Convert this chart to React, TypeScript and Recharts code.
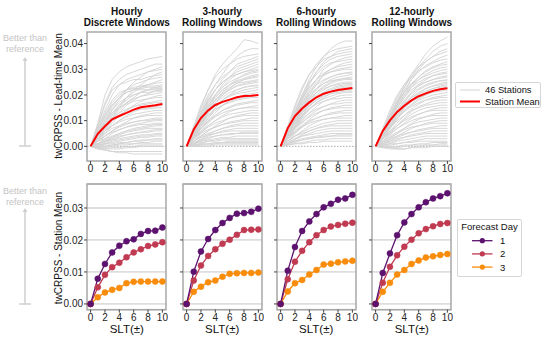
import React from 'react';
import {
  LineChart,
  Line,
  XAxis,
  YAxis,
  CartesianGrid,
  ReferenceArea,
  ReferenceLine,
} from 'recharts';

// Station skill curves, values in units of 0.001 (per-mille), SLT 0..10
const SLT = [0, 1, 2, 3, 4, 5, 6, 7, 8, 9, 10];

const hourlyStations = [
  [0, 9, 20, 26, 29, 31, 32, 33, 34, 34.5, 35],
  [0, 8, 17, 23, 26, 28, 29, 30, 31, 32, 32],
  [0, 4, 9, 14, 18, 22, 25, 27, 29, 30, 31],
  [0, 7, 14, 20, 24, 26, 27, 28, 29, 29.5, 30],
  [0, 3, 7, 11, 15, 19, 22, 24, 26, 28, 29],
  [0, 8, 16, 22, 24, 25, 26, 26, 27, 27.5, 28],
  [0, 5, 10, 15, 19, 22, 24, 25, 26, 26.5, 27],
  [0, 4, 8, 12, 16, 19, 21, 23, 24, 25, 26],
  [0, 6, 12, 17, 20, 22, 23, 23.5, 24, 24.5, 25],
  [0, 5, 11, 16, 19, 21, 22, 23, 23.5, 23.5, 24],
  [0, 3, 7, 11, 14, 17, 19, 21, 22, 23, 23.5],
  [0, 7, 13, 18, 21, 22, 22.5, 22.5, 23, 23, 23],
  [0, 4, 9, 13, 16, 18, 20, 21, 22, 22.5, 22.5],
  [0, 6, 12, 16, 19, 21, 22, 22, 22, 22, 22],
  [0, 2, 6, 10, 13, 16, 18, 19.5, 20.5, 21.5, 22],
  [0, 5, 10, 14, 17, 19, 20, 21, 21, 21.5, 21.5],
  [0, 4, 8, 12, 15, 17, 18.5, 19.5, 20, 20.5, 21],
  [0, 3, 6, 9, 12, 14, 16, 17.5, 18.5, 19.5, 20],
  [0, 5, 9, 13, 15, 16.5, 17.5, 18, 18.5, 19, 19],
  [0, 3, 7, 10, 12, 14, 15.5, 16.5, 17, 17.5, 18],
  [0, 4, 8, 11, 13, 14.5, 15.5, 16, 16.5, 17, 17],
  [0, 2, 5, 8, 10, 12, 13.5, 14.5, 15, 15.5, 16],
  [0, 4, 7, 10, 12, 13, 14, 14.5, 14.5, 15, 15],
  [0, 3, 6, 8, 10, 11.5, 12.5, 13, 13.5, 14, 14],
  [0, 2, 4, 6, 8, 9.5, 11, 12, 12.5, 13, 13],
  [0, 3, 6, 8, 9.5, 10.5, 11, 11.5, 12, 12, 12],
  [0, 2, 4, 6, 7.5, 8.5, 9.5, 10, 10.5, 11, 11],
  [0, 3, 5, 7, 8, 9, 9.5, 10, 10, 10.5, 10.5],
  [0, 1, 3, 5, 6.5, 7.5, 8.5, 9, 9.5, 10, 10],
  [0, 2, 4, 5.5, 6.5, 7.5, 8, 8.5, 8.5, 9, 9],
  [0, 1, 2, 3.5, 5, 6, 7, 7.5, 8, 8.5, 8.5],
  [0, 2, 3, 4, 5, 6, 6.5, 7, 7.5, 8, 8],
  [0, 1, 2.5, 3.5, 4.5, 5.5, 6, 6.5, 7, 7, 7],
  [0, 0.5, 1.5, 2.5, 3.5, 4.5, 5, 5.5, 6, 6.5, 6.5],
  [0, 1, 2, 3, 4, 4.5, 5, 5.5, 5.5, 6, 6],
  [0, 1, 2, 2.5, 3, 3.5, 4, 4.5, 4.5, 5, 5],
  [0, 0, 1, 2, 2.5, 3, 3.5, 4, 4, 4.5, 4.5],
  [0, 0.5, 1, 1.5, 2, 2.5, 3, 3.5, 3.5, 4, 4],
  [0, -0.5, 0, 0.5, 1, 1.5, 2, 2.5, 2.5, 3, 3],
  [0, 0.5, 1, 1, 1.5, 1.5, 2, 2, 2.5, 2.5, 2.5],
  [0, -0.5, -0.5, 0, 0.5, 0.5, 1, 1.5, 1.5, 2, 2],
  [0, 0, 0.5, 0.5, 1, 1, 1, 1, 1, 1, 1],
  [0, -1, -1, -0.5, -0.5, 0, 0, 0.5, 0.5, 0.5, 0.5],
  [0, -0.5, -1, -1, -1, -0.5, -0.5, 0, 0, 0, 0],
  [0, -1, -1.5, -2, -2, -2, -2, -2, -2, -2, -2],
  [0, -0.5, -1.5, -2, -2.5, -2.5, -3, -3, -3, -3, -3],
];

const threeHourStations = [
  [0, 7, 15, 22, 28, 32, 35, 38, 41.5, 41, 40],
  [0, 6, 13, 19, 24, 28, 32, 35, 37, 38, 38],
  [0, 8, 16, 22, 27, 30, 32, 34, 35, 35.5, 36],
  [0, 5, 11, 17, 22, 26, 29, 32, 33, 34, 35],
  [0, 7, 14, 20, 24, 27, 29, 31, 32, 33, 34],
  [0, 4, 10, 15, 20, 24, 27, 30, 31, 32, 33],
  [0, 6, 12, 18, 22, 25, 27, 29, 30, 31, 32],
  [0, 5, 11, 16, 20, 23, 26, 28, 29, 30, 31],
  [0, 7, 13, 18, 22, 25, 27, 28, 29, 29.5, 30],
  [0, 4, 9, 14, 18, 21, 24, 26, 28, 29, 29.5],
  [0, 6, 12, 17, 20, 23, 25, 26.5, 27.5, 28.5, 29],
  [0, 5, 10, 15, 19, 22, 24, 25.5, 26.5, 27.5, 28],
  [0, 3, 8, 13, 17, 20, 22.5, 24.5, 26, 27, 27.5],
  [0, 6, 11, 16, 19, 22, 24, 25, 26, 26.5, 27],
  [0, 5, 10, 14, 18, 21, 23, 24.5, 25, 25.5, 26],
  [0, 4, 9, 13, 17, 20, 22, 23.5, 24.5, 25, 25.5],
  [0, 6, 11, 15, 18, 20.5, 22, 23.5, 24, 24.5, 25],
  [0, 3, 7, 11, 15, 18, 20, 22, 23, 23.5, 24],
  [0, 5, 10, 14, 17, 19, 21, 22, 23, 23.5, 23.5],
  [0, 4, 8, 12, 15, 18, 20, 21, 22, 22.5, 23],
  [0, 5, 9, 13, 16, 18, 19.5, 20.5, 21, 21.5, 22],
  [0, 3, 7, 10, 13, 16, 18, 19, 20, 20.5, 21],
  [0, 4, 8, 11, 14, 16, 17.5, 18.5, 19, 19.5, 20],
  [0, 5, 9, 12, 14.5, 16, 17, 18, 18.5, 19, 19],
  [0, 3, 6, 9, 12, 14, 15.5, 16.5, 17, 17.5, 18],
  [0, 4, 7, 10, 12, 14, 15, 16, 16.5, 17, 17],
  [0, 2, 5, 8, 10, 12, 13.5, 14.5, 15, 15.5, 16],
  [0, 4, 7, 9.5, 11.5, 13, 14, 14.5, 15, 15, 15],
  [0, 3, 6, 8, 10, 11.5, 12.5, 13, 13.5, 14, 14],
  [0, 2, 4, 6, 8, 9.5, 11, 12, 12.5, 13, 13],
  [0, 3, 5.5, 7.5, 9, 10, 11, 11.5, 12, 12, 12],
  [0, 2, 4, 6, 7.5, 8.5, 9.5, 10, 10.5, 11, 11],
  [0, 3, 5, 6.5, 7.5, 8.5, 9, 9.5, 10, 10, 10],
  [0, 1, 3, 4.5, 6, 7, 8, 8.5, 9, 9, 9],
  [0, 2, 4, 5, 6, 7, 7.5, 8, 8, 8, 8],
  [0, 1, 2.5, 4, 5, 6, 6.5, 7, 7, 7, 7],
  [0, 2, 3.5, 4.5, 5, 5.5, 6, 6, 6, 6, 6],
  [0, 1, 2, 3, 4, 4.5, 5, 5, 5.5, 5.5, 5.5],
  [0, 1.5, 2.5, 3.5, 4, 4.5, 4.5, 5, 5, 5, 5],
  [0, 1, 2, 2.5, 3, 3.5, 3.5, 4, 4, 4, 4],
  [0, 0.5, 1, 2, 2.5, 3, 3, 3, 3, 3, 3],
  [0, 1, 1.5, 2, 2, 2.5, 2.5, 2.5, 2.5, 2.5, 2.5],
  [0, 0.5, 1, 1, 1.5, 1.5, 2, 2, 2, 2, 2],
  [0, 0, 0.5, 1, 1, 1.5, 1.5, 1.5, 1.5, 1.5, 1.5],
  [0, 0.5, 0.5, 0.5, 1, 1, 1, 1, 1, 1, 1],
  [0, 0, 0, 0, 0.5, 0.5, 0.5, 0.5, 0.5, 0.5, 0.5],
];

const sixHourStations = [
  [0, 6, 13, 20, 26, 31, 35, 38, 40, 41, 41],
  [0, 7, 15, 22, 28, 32, 35, 37, 38, 38.5, 39],
  [0, 5, 12, 18, 24, 29, 33, 35, 37, 37.5, 38],
  [0, 8, 16, 23, 28, 31, 34, 35, 36, 36.5, 37],
  [0, 6, 13, 19, 25, 29, 32, 34, 35, 35.5, 36],
  [0, 5, 11, 17, 22, 26, 30, 32, 33.5, 34.5, 35],
  [0, 7, 14, 20, 25, 28, 31, 32.5, 33, 33.5, 34],
  [0, 4, 10, 15, 20, 24, 28, 30, 31.5, 32.5, 33],
  [0, 6, 12, 18, 23, 26, 28.5, 30, 31, 31.5, 32],
  [0, 5, 11, 16, 21, 25, 27.5, 29, 30, 30.5, 31],
  [0, 7, 13, 19, 23, 26, 28, 29, 29.5, 30, 30],
  [0, 4, 9, 14, 19, 22.5, 25.5, 27, 28, 28.5, 29],
  [0, 6, 12, 17, 21, 24, 26, 27, 28, 28.5, 28.5],
  [0, 5, 10, 15, 19, 22, 24.5, 26, 27, 27.5, 28],
  [0, 3, 8, 13, 17, 21, 23.5, 25, 26, 26.5, 27],
  [0, 6, 11, 16, 20, 22.5, 24.5, 25.5, 26, 26.5, 26.5],
  [0, 5, 10, 14, 18, 21, 23, 24.5, 25.5, 26, 26],
  [0, 4, 9, 13, 17, 20, 22, 23.5, 24.5, 25, 25],
  [0, 6, 11, 15, 18.5, 21, 22.5, 23.5, 24, 24.5, 24.5],
  [0, 3, 7, 12, 16, 19, 21, 22.5, 23.5, 24, 24],
  [0, 5, 10, 14, 17, 19.5, 21, 22, 23, 23.5, 23.5],
  [0, 4, 8, 12, 15.5, 18, 20, 21.5, 22.5, 23, 23],
  [0, 6, 10, 14, 17, 19, 20.5, 21.5, 22, 22.5, 22.5],
  [0, 3, 7, 11, 14.5, 17, 19, 20.5, 21.5, 22, 22],
  [0, 5, 9, 13, 16, 18, 19.5, 20.5, 21, 21.5, 21.5],
  [0, 4, 8, 11.5, 14.5, 17, 18.5, 19.5, 20.5, 21, 21],
  [0, 3, 7, 10, 13, 15.5, 17.5, 18.5, 19.5, 20, 20],
  [0, 5, 9, 12, 14.5, 16.5, 17.5, 18.5, 18.5, 19, 19],
  [0, 3, 6, 9, 12, 14, 15.5, 16.5, 17.5, 18, 18],
  [0, 4, 7.5, 10.5, 13, 14.5, 15.5, 16.5, 16.5, 17, 17],
  [0, 2, 5, 8, 10.5, 12.5, 14, 15, 15.5, 16, 16],
  [0, 4, 7, 9.5, 11.5, 13, 14, 14.5, 15, 15, 15],
  [0, 2, 5, 7.5, 9.5, 11, 12, 13, 13.5, 14, 14],
  [0, 3, 6, 8, 10, 11, 12, 12.5, 13, 13, 13],
  [0, 2, 4, 6, 8, 9.5, 10.5, 11, 11.5, 12, 12],
  [0, 3, 5.5, 7.5, 9, 10, 10.5, 11, 11, 11, 11],
  [0, 2, 4, 5.5, 7, 8, 9, 9.5, 10, 10, 10],
  [0, 1, 3, 4.5, 6, 7, 8, 8.5, 9, 9, 9],
  [0, 2, 4, 5, 6, 7, 7.5, 8, 8, 8, 8],
  [0, 1, 2.5, 4, 5, 6, 6.5, 7, 7, 7, 7],
  [0, 1.5, 3, 4, 4.5, 5, 5.5, 6, 6, 6, 6],
  [0, 1, 2, 3, 3.5, 4, 4.5, 5, 5, 5, 5],
  [0, 0.5, 1.5, 2.5, 3, 3.5, 4, 4, 4.5, 4.5, 4.5],
  [0, 1, 2, 2.5, 3, 3.5, 3.5, 4, 4, 4, 4],
  [0, 0.5, 1, 1.5, 2, 2.5, 2.5, 3, 3, 3, 3],
  [0, 0.5, 1, 1, 1.5, 1.5, 2, 2, 2, 2, 2],
];

const twelveHourStations = [
  [0, 5, 11, 17, 23, 28, 32, 36, 39, 41, 42.5],
  [0, 6, 12, 18, 23, 27, 31, 34, 37, 39, 40],
  [0, 4, 10, 16, 21, 26, 30, 33, 35, 37, 38],
  [0, 6, 13, 19, 24, 28, 31, 33, 35, 36, 37],
  [0, 5, 11, 17, 22, 26, 29, 31.5, 33, 34.5, 35.5],
  [0, 7, 14, 20, 24, 27, 29.5, 31, 32.5, 33.5, 34],
  [0, 4, 10, 15, 20, 24, 27, 29.5, 31, 32, 33],
  [0, 6, 12, 17, 21, 24.5, 27, 29, 30.5, 31.5, 32],
  [0, 5, 10, 15, 19, 23, 26, 28, 29.5, 30.5, 31],
  [0, 6, 12, 17, 21, 24, 26, 27.5, 28.5, 29.5, 30],
  [0, 3, 8, 13, 17, 21, 24, 26, 27.5, 28.5, 29],
  [0, 5, 11, 16, 20, 23, 25, 26.5, 27.5, 28, 28.5],
  [0, 4, 9, 14, 18, 21, 23.5, 25, 26, 27, 27.5],
  [0, 6, 11, 15, 19, 22, 24, 25, 26, 26.5, 27],
  [0, 4, 8, 12, 16, 19.5, 22, 23.5, 24.5, 25.5, 26],
  [0, 5, 10, 14, 17.5, 20.5, 22.5, 24, 25, 25.5, 25.5],
  [0, 3, 7, 11, 15, 18, 20.5, 22.5, 23.5, 24.5, 25],
  [0, 5, 9, 13, 16.5, 19, 21, 22.5, 23.5, 24, 24.5],
  [0, 4, 8, 12, 15, 17.5, 19.5, 21, 22.5, 23.5, 24],
  [0, 6, 10, 13.5, 16.5, 19, 20.5, 21.5, 22.5, 23, 23.5],
  [0, 3, 7, 10.5, 14, 16.5, 18.5, 20, 21.5, 22.5, 23],
  [0, 5, 9, 12.5, 15, 17.5, 19, 20, 21, 21.5, 22],
  [0, 4, 7.5, 11, 14, 16, 18, 19, 20, 20.5, 21],
  [0, 3, 6, 9, 12, 14.5, 16.5, 18, 19, 19.5, 20],
  [0, 4, 8, 11, 13.5, 15.5, 17, 18, 18.5, 19, 19],
  [0, 2, 5, 8, 11, 13.5, 15.5, 16.5, 17.5, 18, 18],
  [0, 4, 7, 10, 12, 14, 15, 16, 16.5, 17, 17],
  [0, 3, 5.5, 8, 10.5, 12.5, 14, 15, 15.5, 16, 16],
  [0, 2, 4.5, 7, 9, 11, 12.5, 13.5, 14.5, 15, 15],
  [0, 3, 6, 8, 10, 11.5, 12.5, 13.5, 14, 14, 14],
  [0, 1, 3, 5, 7, 9, 10.5, 11.5, 12.5, 13, 13],
  [0, 3, 5, 7, 8.5, 10, 11, 11.5, 12, 12, 12],
  [0, 2, 4, 5.5, 7, 8.5, 9.5, 10, 10.5, 11, 11],
  [0, 1, 2.5, 4, 5.5, 7, 8, 9, 9.5, 10, 10],
  [0, 2, 3.5, 5, 6.5, 7.5, 8, 8.5, 9, 9, 9],
  [0, 1, 2, 3.5, 4.5, 5.5, 6.5, 7, 7.5, 8, 8],
  [0, 1.5, 3, 4, 5, 5.5, 6, 6.5, 7, 7, 7],
  [0, 0.5, 1.5, 2.5, 3.5, 4.5, 5, 5.5, 6, 6, 6],
  [0, 1, 2, 3, 3.5, 4, 4.5, 5, 5, 5, 5],
  [0, 0.5, 1, 2, 2.5, 3, 3.5, 4, 4, 4, 4],
  [0, 0, 0.5, 1, 1.5, 2, 2.5, 3, 3, 3, 3],
  [0, 0.5, 1, 1, 1.5, 1.5, 2, 2, 2, 2, 2],
  [0, 0, -0.5, -0.5, 0, 0.5, 1, 1, 1.5, 1.5, 1.5],
  [0, -0.5, -0.5, -1, -1, -0.5, 0, 0.5, 0.5, 1, 1],
  [0, 0, 0, 0, 0.5, 0.5, 0.5, 0.5, 0.5, 0.5, 0.5],
  [0, -0.5, -1, -1, -1, -0.5, -0.5, -0.5, 0, 0, 0],
];

// station means (twCRPSS)
const hourlyMean = [0, 0.0049, 0.0078, 0.0105, 0.0118, 0.013, 0.0143, 0.0152, 0.0156, 0.016, 0.0165];
const threeHourMean = [0, 0.0066, 0.011, 0.014, 0.0161, 0.0173, 0.0182, 0.0191, 0.0196, 0.0197, 0.02];
const sixHourMean = [0, 0.0071, 0.0118, 0.0147, 0.0171, 0.0191, 0.0205, 0.0213, 0.0219, 0.0223, 0.0227];
const twelveHourMean = [0, 0.006, 0.0101, 0.0134, 0.0158, 0.0179, 0.0195, 0.0206, 0.0216, 0.0222, 0.0226];

// station mean by forecast day
const hourlyDay1 = [0, 0.0079, 0.0125, 0.0161, 0.0182, 0.0196, 0.0202, 0.0219, 0.0228, 0.0229, 0.0239];
const hourlyDay2 = [0, 0.0052, 0.0091, 0.0115, 0.0129, 0.0146, 0.0161, 0.0171, 0.0181, 0.0186, 0.0193];
const hourlyDay3 = [0, 0.0021, 0.0036, 0.0044, 0.005, 0.0065, 0.0069, 0.007, 0.007, 0.007, 0.007];
const threeHourDay1 = [0, 0.0101, 0.0164, 0.0203, 0.0231, 0.0253, 0.0269, 0.0282, 0.0284, 0.0288, 0.0298];
const threeHourDay2 = [0, 0.0073, 0.012, 0.015, 0.0171, 0.0188, 0.0201, 0.0216, 0.0231, 0.0232, 0.0233];
const threeHourDay3 = [0, 0.0038, 0.0054, 0.0068, 0.0073, 0.0085, 0.0094, 0.0096, 0.0097, 0.0097, 0.0098];
const sixHourDay1 = [0, 0.0104, 0.0178, 0.0228, 0.0258, 0.0281, 0.0302, 0.0313, 0.0326, 0.033, 0.0341];
const sixHourDay2 = [0, 0.0077, 0.0132, 0.0166, 0.0193, 0.0215, 0.0231, 0.0242, 0.0247, 0.0251, 0.0254];
const sixHourDay3 = [0, 0.0039, 0.0065, 0.0075, 0.0092, 0.0106, 0.0123, 0.0126, 0.013, 0.0133, 0.0135];
const twelveHourDay1 = [0, 0.0097, 0.0158, 0.0215, 0.0255, 0.0281, 0.0302, 0.0318, 0.033, 0.0337, 0.0346];
const twelveHourDay2 = [0, 0.0066, 0.0116, 0.0152, 0.0179, 0.0201, 0.0221, 0.0234, 0.0243, 0.025, 0.0253];
const twelveHourDay3 = [0, 0.0038, 0.0066, 0.0092, 0.0106, 0.0125, 0.0136, 0.0145, 0.0149, 0.0153, 0.0156];

const panelTitles = [
  ['Hourly', 'Discrete Windows'],
  ['3-hourly', 'Rolling Windows'],
  ['6-hourly', 'Rolling Windows'],
  ['12-hourly', 'Rolling Windows'],
];
const xTicks = [0, 2, 4, 6, 8, 10];
const topYTicks = [0, 0.01, 0.02, 0.03, 0.04];
const bottomYTicks = [0, 0.01, 0.02, 0.03];
const dayLabels = ['1', '2', '3'];

const DAY_COLORS = ['#5c126e', '#c03a51', '#f98c0a'];
const FONT = '"Liberation Sans", Arial, Helvetica, sans-serif';
const PLOT_W = 79;
const PANEL_LEFTS = [87.3, 182.7, 276.7, 372.3];
const TOP_ROW = { top: 31.7, height: 129, domain: [-0.0057, 0.0445] };
const BOTTOM_ROW = { top: 184.3, height: 125.7, domain: [-0.0018, 0.0375] };
const Y_W = 40;
const X_H = 20;

const stationSets = [hourlyStations, threeHourStations, sixHourStations, twelveHourStations];
const meanSets = [hourlyMean, threeHourMean, sixHourMean, twelveHourMean];
const daySets = [
  [hourlyDay1, hourlyDay2, hourlyDay3],
  [threeHourDay1, threeHourDay2, threeHourDay3],
  [sixHourDay1, sixHourDay2, sixHourDay3],
  [twelveHourDay1, twelveHourDay2, twelveHourDay3],
];

const tickStyle = { fontSize: 10, fill: '#222', fontFamily: FONT };

const frame = (domain: number[]) => (
  <ReferenceArea
    x1={-0.5}
    x2={10.5}
    y1={domain[0]}
    y2={domain[1]}
    stroke="#a8a8a8"
    strokeWidth={1.5}
    fill="none"
    fillOpacity={0}
    ifOverflow="visible"
  />
);

const TopPanel = ({ idx }: { idx: number }) => {
  const stations = stationSets[idx];
  const data = SLT.map((slt, k) => {
    const row: Record<string, number> = { slt, mean: meanSets[idx][k] };
    stations.forEach((s, i) => {
      row[`s${i}`] = s[k] / 1000;
    });
    return row;
  });
  return (
    <div style={{ position: 'absolute', left: PANEL_LEFTS[idx] - Y_W, top: TOP_ROW.top - 2 }}>
      <LineChart
        width={Y_W + PLOT_W + 2}
        height={TOP_ROW.height + 2 + X_H}
        data={data}
        margin={{ top: 2, right: 2, left: 0, bottom: 0 }}
      >
        <XAxis
          dataKey="slt"
          type="number"
          domain={[-0.5, 10.5]}
          ticks={xTicks}
          allowDataOverflow
          axisLine={false}
          tickSize={3}
          tickMargin={1}
          height={X_H}
          tick={tickStyle}
          tickLine={{ stroke: '#444' }}
        />
        <YAxis
          type="number"
          domain={TOP_ROW.domain}
          ticks={topYTicks}
          allowDataOverflow
          axisLine={false}
          tickSize={3}
          tickMargin={1}
          width={Y_W}
          tick={tickStyle}
          tickLine={{ stroke: '#444' }}
          tickFormatter={(v: number) => (idx === 0 ? v.toFixed(2) : '')}
        />
        <ReferenceLine y={0} stroke="#999" strokeDasharray="1.5 1.5" strokeWidth={0.8} />
        {stations.map((_, i) => (
          <Line
            key={i}
            dataKey={`s${i}`}
            stroke="#d3d3d3"
            strokeWidth={0.9}
            dot={false}
            isAnimationActive={false}
          />
        ))}
        <Line dataKey="mean" stroke="#ff0000" strokeWidth={2} dot={false} isAnimationActive={false} />
        {frame(TOP_ROW.domain)}
      </LineChart>
    </div>
  );
};

const BottomPanel = ({ idx }: { idx: number }) => {
  const days = daySets[idx];
  const data = SLT.map((slt, k) => ({ slt, d1: days[0][k], d2: days[1][k], d3: days[2][k] }));
  return (
    <div style={{ position: 'absolute', left: PANEL_LEFTS[idx] - Y_W, top: BOTTOM_ROW.top - 2 }}>
      <LineChart
        width={Y_W + PLOT_W + 2}
        height={BOTTOM_ROW.height + 2 + X_H}
        data={data}
        margin={{ top: 2, right: 2, left: 0, bottom: 0 }}
      >
        <CartesianGrid vertical={false} stroke="#dedede" strokeWidth={1.8} />
        <XAxis
          dataKey="slt"
          type="number"
          domain={[-0.5, 10.5]}
          ticks={xTicks}
          allowDataOverflow
          axisLine={false}
          tickSize={3}
          tickMargin={1}
          height={X_H}
          tick={tickStyle}
          tickLine={{ stroke: '#444' }}
        />
        <YAxis
          type="number"
          domain={BOTTOM_ROW.domain}
          ticks={bottomYTicks}
          allowDataOverflow
          axisLine={false}
          tickSize={3}
          tickMargin={1}
          width={Y_W}
          tick={tickStyle}
          tickLine={{ stroke: '#444' }}
          tickFormatter={(v: number) => (idx === 0 ? v.toFixed(2) : '')}
        />
        {['d3', 'd2', 'd1'].map((key) => {
          const c = DAY_COLORS[Number(key[1]) - 1];
          return (
            <Line
              key={key}
              dataKey={key}
              stroke={c}
              strokeWidth={1.3}
              dot={{ r: 3, fill: c, stroke: c, strokeWidth: 0.5 }}
              isAnimationActive={false}
            />
          );
        })}
        {frame(BOTTOM_ROW.domain)}
      </LineChart>
    </div>
  );
};

const textStyle: React.CSSProperties = { position: 'absolute', fontFamily: FONT, color: '#111', whiteSpace: 'nowrap' };

const ArrowNote = ({ textY, arrowTop, arrowBottom }: { textY: number; arrowTop: number; arrowBottom: number }) => (
  <g>
    <text x={25} y={textY} textAnchor="middle" fontSize={9} fill="#c4c4c4" fontFamily={FONT}>
      Better than
    </text>
    <text x={25} y={textY + 11} textAnchor="middle" fontSize={9} fill="#c4c4c4" fontFamily={FONT}>
      reference
    </text>
    <line x1={25} y1={arrowTop + 3} x2={25} y2={arrowBottom} stroke="#cfcfcf" strokeWidth={1.5} />
    <polygon points={`22.5,${arrowTop + 4} 27.5,${arrowTop + 4} 25,${arrowTop}`} fill="#cfcfcf" />
    <line x1={19} y1={arrowBottom} x2={31} y2={arrowBottom} stroke="#cfcfcf" strokeWidth={1.5} />
  </g>
);

export default function App() {
  return (
    <div style={{ position: 'absolute', left: 0, top: 0, width: 550, height: 342, background: '#fff', overflow: 'hidden' }}>
      <svg width={550} height={342} style={{ position: 'absolute', left: 0, top: 0 }}>
        <ArrowNote textY={41} arrowTop={57} arrowBottom={146} />
        <ArrowNote textY={194} arrowTop={208} arrowBottom={304} />
      </svg>

      {panelTitles.map((t, i) => (
        <div
          key={i}
          style={{
            ...textStyle,
            left: PANEL_LEFTS[i] + PLOT_W / 2 - 60,
            width: 120,
            top: 5.5,
            textAlign: 'center',
            fontWeight: 'bold',
            fontSize: 10,
            lineHeight: '11px',
          }}
        >
          {t[0]}
          <br />
          {t[1]}
        </div>
      ))}

      <div
        style={{
          ...textStyle,
          left: 59 - 80,
          top: 96 - 6,
          width: 160,
          textAlign: 'center',
          fontSize: 10,
          lineHeight: '12px',
          transform: 'rotate(-90deg)',
        }}
      >
        twCRPSS - Lead-time Mean
      </div>
      <div
        style={{
          ...textStyle,
          left: 59 - 80,
          top: 248 - 6,
          width: 160,
          textAlign: 'center',
          fontSize: 10,
          lineHeight: '12px',
          transform: 'rotate(-90deg)',
        }}
      >
        twCRPSS - Station Mean
      </div>

      {[0, 1, 2, 3].map((i) => (
        <TopPanel key={`t${i}`} idx={i} />
      ))}
      {[0, 1, 2, 3].map((i) => (
        <BottomPanel key={`b${i}`} idx={i} />
      ))}

      {PANEL_LEFTS.map((l, i) => (
        <div
          key={`slt${i}`}
          style={{ ...textStyle, left: l + PLOT_W / 2 - 30, width: 60, top: 322, textAlign: 'center', fontSize: 11.5, lineHeight: '14px' }}
        >
          SLT(±)
        </div>
      ))}

      {/* station legend */}
      <div
        style={{
          position: 'absolute',
          left: 455,
          top: 82,
          width: 86,
          height: 26,
          boxSizing: 'border-box',
          border: '1px solid #d6d6d6',
          borderRadius: 2,
          background: '#fff',
        }}
      >
        <svg width={86} height={26} style={{ position: 'absolute', left: -1, top: -1 }}>
          <line x1={5} x2={25} y1={8} y2={8} stroke="#d3d3d3" strokeWidth={1} />
          <line x1={5} x2={25} y1={19.5} y2={19.5} stroke="#ff0000" strokeWidth={2} />
          <text x={30} y={11.2} fontSize={9.3} fill="#111" fontFamily={FONT}>
            46 Stations
          </text>
          <text x={30} y={22.8} fontSize={9.3} fill="#111" fontFamily={FONT}>
            Station Mean
          </text>
        </svg>
      </div>

      {/* forecast-day legend */}
      <div
        style={{
          position: 'absolute',
          left: 457,
          top: 219,
          width: 65,
          height: 58,
          boxSizing: 'border-box',
          border: '1px solid #d6d6d6',
          borderRadius: 2,
          background: '#fff',
        }}
      >
        <svg width={65} height={58} style={{ position: 'absolute', left: -1, top: -1 }}>
          <text x={32.5} y={11} textAnchor="middle" fontSize={9.5} fill="#111" fontFamily={FONT}>
            Forecast Day
          </text>
          {dayLabels.map((d, i) => {
            const y = 21.7 + i * 13.2;
            return (
              <g key={d}>
                <line x1={15} x2={35.5} y1={y} y2={y} stroke={DAY_COLORS[i]} strokeWidth={1.3} />
                <circle cx={25.3} cy={y} r={2.6} fill={DAY_COLORS[i]} />
                <text x={43} y={y + 3.4} fontSize={9.5} fill="#111" fontFamily={FONT}>
                  {d}
                </text>
              </g>
            );
          })}
        </svg>
      </div>
    </div>
  );
}
